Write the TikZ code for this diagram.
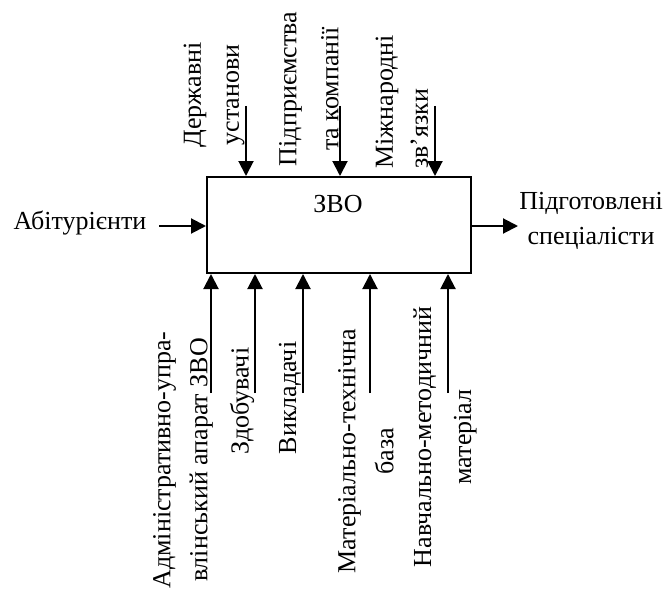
\documentclass[tikz,border=0pt]{standalone}
\usepackage{fontspec}
\setmainfont{Liberation Serif}
\usepackage{tikz}
\usetikzlibrary{arrows.meta}

\begin{document}
\begin{tikzpicture}[x=0.5pt, y=-0.5pt, >={Triangle[length=7.5pt, width=7.5pt]}, line cap=butt,
  flow/.style={->, black, line width=1pt},
  vlabel/.style={rotate=90, inner sep=0pt, align=center, font=\fontsize{13}{#1}\selectfont},
  hlabel/.style={inner sep=0pt, align=center, font=\fontsize{13}{17.5}\selectfont}]
\useasboundingbox (0,0) rectangle (667,588);
\node[draw, line width=1pt, minimum width=132pt, minimum height=48pt, inner sep=0pt] (zvo) at (339,225) {};
\node[hlabel] (zvoname) at (338,204) {ЗВО};
\coordinate (inp) at (159,226);
\coordinate (outp) at (518,226);
\coordinate (t1) at (246,106);
\coordinate (t2) at (340,106);
\coordinate (t3) at (435,106);
\coordinate (b1) at (211,393);
\coordinate (b2) at (255,393);
\coordinate (b3) at (303,393);
\coordinate (b4) at (370,393);
\coordinate (b5) at (448,393);
\draw[flow] (inp) -- (inp -| zvo.west);
\draw[flow] (outp -| zvo.east) -- (outp);
\draw[flow] (t1) -- (t1 |- zvo.north);
\draw[flow] (t2) -- (t2 |- zvo.north);
\draw[flow] (t3) -- (t3 |- zvo.north);
\draw[flow] (b1) -- (b1 |- zvo.south);
\draw[flow] (b2) -- (b2 |- zvo.south);
\draw[flow] (b3) -- (b3 |- zvo.south);
\draw[flow] (b4) -- (b4 |- zvo.south);
\draw[flow] (b5) -- (b5 |- zvo.south);
\node[hlabel] (applicants) at (80,223) {Абітурієнти};
\node[hlabel] (graduates) at (591,221) {Підготовлені\\спеціалісти};
\node[vlabel=19pt] (state) at (214,95) {Державні\\установи};
\node[vlabel=21pt] (firms) at (309,89) {Підприємства\\та компанії};
\node[vlabel=17.5pt, align=left, anchor=west] (intl) at (402,169) {Міжнародні\\зв’язки};
\node[vlabel=18.5pt] (admin) at (183,460) {Адміністративно-упра-\\влінський апарат ЗВО};
\node[vlabel=18pt] (students) at (242,401) {Здобувачі};
\node[vlabel=18pt] (teachers) at (290,398) {Викладачі};
\node[vlabel=19pt] (base) at (366,451) {Матеріально-технічна\\база};
\node[vlabel=20pt] (method) at (445,437) {Навчально-методичний\\матеріал};
\end{tikzpicture}
\end{document}
